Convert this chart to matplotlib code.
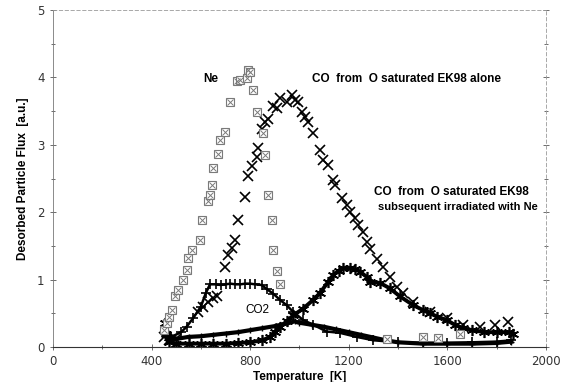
"""Desorbed particle flux vs temperature (Ne / CO from O saturated EK98)."""

import matplotlib

matplotlib.use("Agg")
import matplotlib.pyplot as plt
from matplotlib.ticker import MultipleLocator

# Ne desorption (boxed markers)
ne_T = [452, 462, 472, 481, 495, 508, 529, 542, 549, 563, 596, 603, 630, 637,
        644, 650, 671, 677, 698, 718, 745, 760, 786, 790, 800, 813, 826, 853,
        860, 873, 887, 894, 907, 921, 1354, 1501, 1563, 1651]
ne_v = [0.25, 0.35, 0.45, 0.55, 0.75, 0.85, 1.00, 1.14, 1.32, 1.44, 1.59, 1.88,
        2.16, 2.26, 2.40, 2.65, 2.87, 3.07, 3.19, 3.64, 3.94, 3.96, 3.99, 4.11,
        4.08, 3.81, 3.49, 3.17, 2.85, 2.26, 1.88, 1.44, 1.13, 0.93, 0.12, 0.15,
        0.14, 0.19]

# CO from O saturated EK98 alone (x markers)
co_T = [452, 470, 500, 590, 610, 630, 650, 664, 698, 711, 725, 738, 752, 779,
        792, 806, 826, 833, 847, 860, 873, 894, 907, 921, 948, 968, 982, 995,
        1009, 1022, 1036, 1056, 1083, 1097, 1117, 1137, 1144, 1171, 1191, 1205,
        1225, 1239, 1259, 1273, 1286, 1313, 1340, 1367, 1394, 1421, 1462, 1529,
        1597, 1664, 1732, 1793, 1847]
co_v = [0.15, 0.10, 0.12, 0.52, 0.60, 0.67, 0.72, 0.75, 1.19, 1.36, 1.47, 1.59,
        1.88, 2.23, 2.53, 2.68, 2.82, 2.95, 3.24, 3.34, 3.39, 3.57, 3.54, 3.69,
        3.64, 3.74, 3.66, 3.64, 3.49, 3.42, 3.34, 3.17, 2.92, 2.77, 2.70, 2.48,
        2.40, 2.21, 2.11, 2.01, 1.91, 1.81, 1.71, 1.56, 1.46, 1.31, 1.19, 1.04,
        0.89, 0.80, 0.67, 0.52, 0.43, 0.33, 0.30, 0.33, 0.37]

# CO from O saturated EK98 subsequent irradiated with Ne (asterisks)
irr_T = [455, 460, 470, 500, 550, 600, 650, 700, 750, 800, 850, 880, 900, 921,
         948, 975, 1015, 1056, 1083, 1117, 1137, 1160, 1178, 1205, 1225, 1245,
         1273, 1286, 1327, 1367, 1408, 1462, 1500, 1529, 1560, 1597, 1630, 1664,
         1700, 1750, 1800, 1850, 1865]
irr_v = [0.35, 0.20, 0.08, 0.05, 0.05, 0.05, 0.05, 0.05, 0.06, 0.07, 0.10, 0.15,
         0.22, 0.30, 0.38, 0.47, 0.57, 0.70, 0.80, 0.97, 1.07, 1.13, 1.17, 1.17,
         1.15, 1.12, 1.04, 0.97, 0.95, 0.87, 0.75, 0.62, 0.55, 0.50, 0.45, 0.40,
         0.33, 0.28, 0.25, 0.22, 0.22, 0.22, 0.20]

# plateau series (+ markers)
pl_T = [458, 480, 520, 542, 569, 600, 620, 637, 660, 680, 700, 720, 740, 760,
        780, 800, 820, 847, 867, 894, 921, 948, 975, 1015, 1056, 1110, 1164,
        1232, 1300, 1400, 1500, 1600, 1700, 1800, 1860]
pl_v = [0.30, 0.15, 0.22, 0.30, 0.43, 0.60, 0.80, 0.93, 0.93, 0.92, 0.93, 0.94,
        0.93, 0.93, 0.94, 0.94, 0.93, 0.92, 0.86, 0.79, 0.70, 0.62, 0.52, 0.40,
        0.33, 0.23, 0.21, 0.15, 0.10, 0.07, 0.06, 0.06, 0.07, 0.08, 0.10]

# CO2 (small +, close to the baseline)
co2_T = [455, 465, 500, 550, 600, 650, 700, 750, 800, 850, 900, 950, 980, 1000,
         1050, 1100, 1150, 1200, 1250, 1300, 1350, 1400, 1500, 1600, 1700, 1800,
         1860]
co2_v = [0.30, 0.15, 0.12, 0.15, 0.16, 0.18, 0.20, 0.22, 0.25, 0.28, 0.31, 0.35,
         0.38, 0.36, 0.33, 0.30, 0.26, 0.22, 0.18, 0.14, 0.10, 0.07, 0.05, 0.05,
         0.05, 0.06, 0.08]


def main() -> None:
    fig = plt.figure(figsize=(5.69, 3.82), dpi=100)
    ax = fig.add_axes([0.0931, 0.0916, 0.8664, 0.8822])

    ax.plot(co2_T, co2_v, color="black", lw=3.0, marker="+", ms=5, mew=1.0)
    ax.plot(pl_T, pl_v, color="black", lw=1.8, marker="+", ms=7, mew=1.2)
    ax.plot(irr_T, irr_v, color="black", lw=2.8, marker=(6, 2, 0), ms=8, mew=1.2)
    ax.plot(co_T, co_v, ls="none", color="black", marker="x", ms=7, mew=1.2)
    ax.plot(ne_T, ne_v, ls="none", marker="s", ms=5.5, mfc="white", mec="#7a7a7a", mew=0.8)
    ax.plot(ne_T, ne_v, ls="none", marker="x", ms=4, color="#7a7a7a", mew=0.7)

    bold = dict(fontsize=8.5, fontweight="bold", family="Liberation Sans")
    ax.text(610, 3.98, "Ne", va="center", **bold)
    ax.text(1052, 3.98, "CO  from  O saturated EK98 alone", va="center", **bold)
    ax.text(1302, 2.30, "CO  from  O saturated EK98", va="center", **bold)
    ax.text(1320, 2.08, "subsequent irradiated with Ne", va="center",
            fontsize=8.0, fontweight="bold", family="Liberation Sans")
    ax.annotate("CO2", xy=(935, 0.27), xytext=(830, 0.55), fontsize=8.5,
                ha="center", va="center", family="Liberation Sans",
                arrowprops=dict(arrowstyle="-", lw=0.7, color="black",
                                shrinkA=6, shrinkB=0))

    ax.set_xlim(0, 2000)
    ax.set_ylim(0, 5)
    ax.xaxis.set_major_locator(MultipleLocator(400))
    ax.xaxis.set_minor_locator(MultipleLocator(200))
    ax.yaxis.set_major_locator(MultipleLocator(1))
    ax.yaxis.set_minor_locator(MultipleLocator(0.5))
    ax.tick_params(which="both", direction="inout", color="#555555", width=0.6,
                   labelsize=8.5, labelcolor="#333333", top=False, right=True)
    ax.tick_params(which="major", length=5)
    ax.tick_params(which="minor", length=3)

    for side in ("top", "right"):
        ax.spines[side].set_linestyle((0, (4, 3)))
        ax.spines[side].set_color("#9a9a9a")
        ax.spines[side].set_linewidth(0.6)
    ax.spines["left"].set_color("#777777")
    ax.spines["left"].set_linewidth(0.6)
    ax.spines["bottom"].set_color("#333333")
    ax.spines["bottom"].set_linewidth(0.8)

    ax.set_xlabel("Temperature  [K]", labelpad=2, **bold)
    ax.set_ylabel("Desorbed Particle Flux  [a.u.]", labelpad=6, **bold)

    fig.savefig("out.png", dpi=100)


if __name__ == "__main__":
    main()
